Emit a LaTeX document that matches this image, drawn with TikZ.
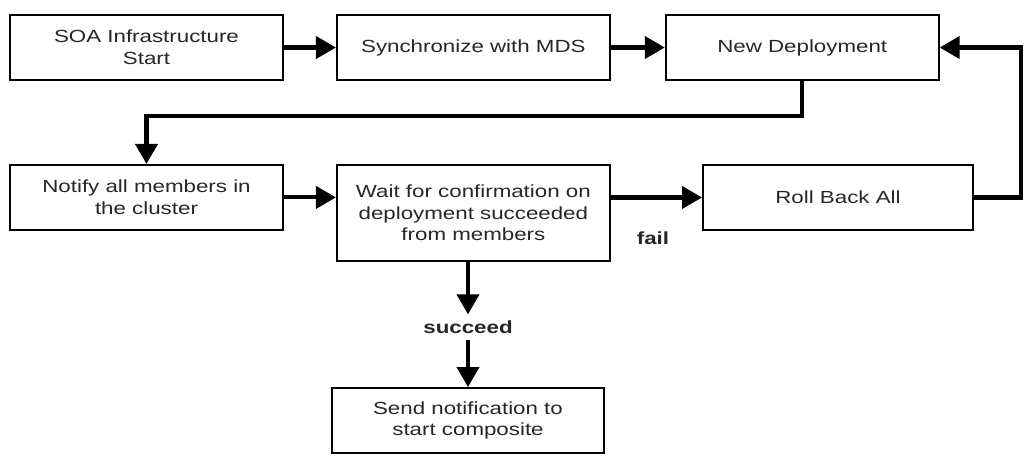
\documentclass[tikz,border=0pt]{standalone}
\usepackage{fontspec}
\setmainfont[FakeStretch=1.27]{Liberation Sans}
\usetikzlibrary{arrows.meta, positioning}

\begin{document}
\begin{tikzpicture}[x=0.02cm, y=-0.02cm]
	\tikzset{
		box/.style = {draw, line width=1.1pt, minimum width=5.46cm, minimum height=1.3cm, align=center, inner sep=2pt, font=\fontsize{10}{12.4}\selectfont, text=black!85},
		arrow/.style = {-{Triangle[length=0.4cm, width=0.44cm]}, line width=2.3pt},
		flowlabel/.style = {font=\fontsize{10}{12.4}\selectfont\bfseries, text=black!85},
	}

	\useasboundingbox (0,0) rectangle (1029,464);

	\node[box] (soa) at (146.5,47.5) {SOA Infrastructure\\Start};
	\node[box, right=1.04cm of soa] (sync) {Synchronize with MDS};
	\node[box, right=1.08cm of sync] (newdep) {New Deployment};

	\node[box, below=1.66cm of soa] (notify) {Notify all members in\\the cluster};
	\node[box, minimum height=1.92cm, below=1.66cm of sync] (wait) {Wait for confirmation on\\deployment succeeded\\from members};
	\node[box, minimum width=5.4cm] (roll) at (838,197.5) {Roll Back All};

	\node[flowlabel] (fail) at (653,238) {fail};
	\node[flowlabel] (succeed) at (468,327) {succeed};
	\node[box, minimum width=5.44cm] (send) at (468,420.5) {Send notification to\\start composite};

	\draw[arrow] (soa) -- (sync);
	\draw[arrow] (sync) -- (newdep);
	\draw[arrow] (newdep.south) -- ++(0,35) -| (notify.north);
	\draw[arrow] (notify.east) -- (notify.east -| wait.west);
	\draw[arrow] (roll.west -| wait.east) -- (roll.west);
	\draw[arrow] (roll.east) -- ++(47,0) |- (newdep.east);
	\draw[arrow] (wait.south -| succeed) -- (succeed.north);
	\draw[arrow] (succeed.south) -- (send.north);

\end{tikzpicture}
\end{document}
